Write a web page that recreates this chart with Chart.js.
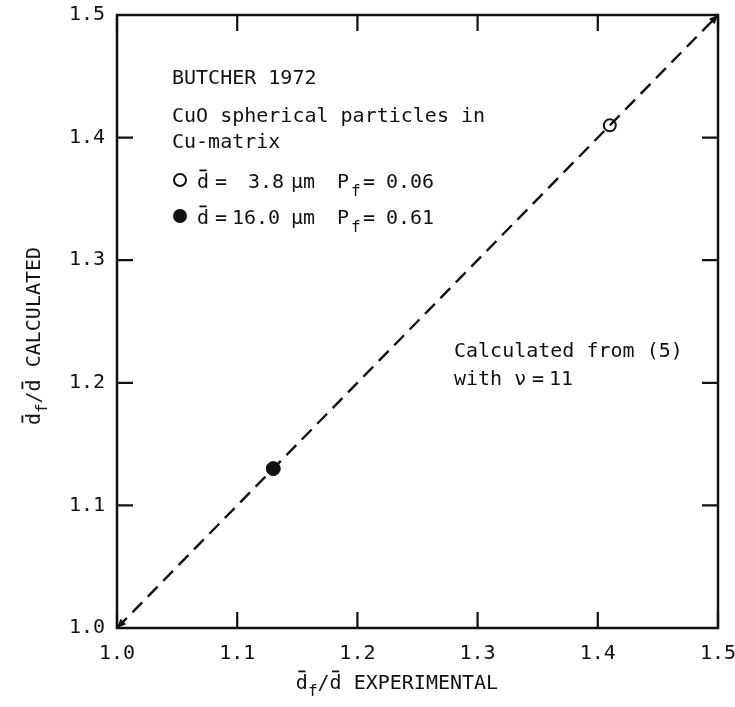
<!DOCTYPE html>
<html>
<head>
<meta charset="utf-8">
<script src="https://cdn.jsdelivr.net/npm/chart.js@4.4.0/dist/chart.umd.min.js"></script>
<style>
  html, body { margin: 0; padding: 0; background: #fff; }
  #wrap { width: 735px; height: 707px; }
</style>
</head>
<body>
<div id="wrap"><canvas id="chart"></canvas></div>
<script>
// values
const tickValues = [1.0, 1.1, 1.2, 1.3, 1.4, 1.5];
const lineX = [1.0, 1.5];
const lineY = [1.0, 1.5];
const openX = [1.41];
const openY = [1.41];
const filledX = [1.13];
const filledY = [1.13];

const FONT = '"DejaVu Sans Mono", monospace';
const INK = '#111';

function pts(xs, ys) {
  return xs.map((x, i) => ({ x: x, y: ys[i] }));
}

// text with overbar / subscript pieces: [text, kind]
function drawRich(ctx, parts, x, y, size) {
  let cx = x;
  parts.forEach(p => {
    const kind = p[1] || '';
    const s = kind === 'sub' ? size * 0.8 : size;
    ctx.font = s + 'px ' + FONT;
    const w = ctx.measureText(p[0]).width;
    const by = kind === 'sub' ? y + size * 0.35 : y;
    ctx.fillText(p[0], cx, by);
    if (kind === 'bar') {
      ctx.beginPath();
      ctx.lineWidth = 1.8;
      ctx.moveTo(cx + w * 0.2, y - size * 0.88);
      ctx.lineTo(cx + w * 0.8, y - size * 0.88);
      ctx.stroke();
    }
    cx += w;
  });
  return cx - x;
}

function richWidth(ctx, parts, size) {
  let w = 0;
  parts.forEach(p => {
    const s = p[1] === 'sub' ? size * 0.8 : size;
    ctx.font = s + 'px ' + FONT;
    w += ctx.measureText(p[0]).width;
  });
  return w;
}

const decor = {
  id: 'decor',
  afterDatasetsDraw(chart) {
    const ctx = chart.ctx;
    const a = chart.chartArea;
    const xs = chart.scales.x, ys = chart.scales.y;
    ctx.save();
    ctx.strokeStyle = INK;
    ctx.fillStyle = INK;

    // frame
    ctx.lineWidth = 2.5;
    ctx.strokeRect(a.left, a.top, a.right - a.left, a.bottom - a.top);

    // inward ticks on all four sides
    const tl = 16;
    ctx.lineWidth = 2.2;
    tickValues.forEach(v => {
      const px = xs.getPixelForValue(v);
      const py = ys.getPixelForValue(v);
      ctx.beginPath();
      ctx.moveTo(px, a.bottom); ctx.lineTo(px, a.bottom - tl);
      ctx.moveTo(px, a.top); ctx.lineTo(px, a.top + tl);
      ctx.moveTo(a.left, py); ctx.lineTo(a.left + tl, py);
      ctx.moveTo(a.right, py); ctx.lineTo(a.right - tl, py);
      ctx.stroke();
    });

    // arrow heads at both ends of the dashed line
    const p0 = { x: xs.getPixelForValue(lineX[0]), y: ys.getPixelForValue(lineY[0]) };
    const p1 = { x: xs.getPixelForValue(lineX[1]), y: ys.getPixelForValue(lineY[1]) };
    [[p0, p1], [p1, p0]].forEach(pair => {
      const tip = pair[0], from = pair[1];
      const ang = Math.atan2(tip.y - from.y, tip.x - from.x);
      const L = 9, W = 4;
      ctx.beginPath();
      ctx.moveTo(tip.x, tip.y);
      ctx.lineTo(tip.x - L * Math.cos(ang) + W * Math.sin(ang), tip.y - L * Math.sin(ang) - W * Math.cos(ang));
      ctx.lineTo(tip.x - L * Math.cos(ang) - W * Math.sin(ang), tip.y - L * Math.sin(ang) + W * Math.cos(ang));
      ctx.closePath();
      ctx.fill();
    });

    // annotation block
    ctx.textBaseline = 'alphabetic';
    ctx.textAlign = 'left';
    const fs = 20;
    ctx.font = fs + 'px ' + FONT;
    ctx.fillText('BUTCHER 1972', 172, 84);
    ctx.fillText('CuO spherical particles in', 172, 122);
    ctx.fillText('Cu-matrix', 172, 148);

    // legend markers
    ctx.lineWidth = 2;
    ctx.beginPath();
    ctx.arc(180, 180, 6, 0, Math.PI * 2);
    ctx.stroke();
    ctx.beginPath();
    ctx.arc(180, 216, 7, 0, Math.PI * 2);
    ctx.fill();

    const rows = [[188, '3.8', 248, '0.06'], [224, '16.0', 232, '0.61']];
    rows.forEach(r => {
      const b = r[0];
      drawRich(ctx, [['d', 'bar']], 197, b, fs);
      ctx.font = fs + 'px ' + FONT;
      ctx.fillText('=', 215, b);
      ctx.fillText(r[1], r[2], b);
      ctx.fillText('\u00b5m', 291, b);
      ctx.fillText('P', 337, b);
      ctx.font = (fs * 0.8) + 'px ' + FONT;
      ctx.fillText('f', 351, b + 8);
      ctx.font = fs + 'px ' + FONT;
      ctx.fillText('=', 363, b);
      ctx.fillText(r[3], 386, b);
    });

    ctx.font = fs + 'px ' + FONT;
    ctx.fillText('Calculated from (5)', 454, 357);
    ctx.fillText('with \u03bd', 454, 385);
    ctx.fillText('=', 532, 385);
    ctx.fillText('11', 549, 385);

    // axis titles
    const xt = [['d', 'bar'], ['f', 'sub'], ['/'], ['d', 'bar'], [' EXPERIMENTAL']];
    const xw = richWidth(ctx, xt, fs);
    drawRich(ctx, xt, 397 - xw / 2, 689, fs);

    const yt = [['d', 'bar'], ['f', 'sub'], ['/'], ['d', 'bar'], [' CALCULATED']];
    const yw = richWidth(ctx, yt, fs);
    ctx.translate(40, 336);
    ctx.rotate(-Math.PI / 2);
    drawRich(ctx, yt, -yw / 2, 0, fs);
    ctx.restore();
  }
};

const tickFont = { family: FONT, size: 20 };

function noPad(s) {
  s.paddingLeft = 0; s.paddingRight = 0; s.paddingTop = 0; s.paddingBottom = 0;
}

new Chart(document.getElementById('chart'), {
  type: 'scatter',
  data: {
    datasets: [
      {
        label: 'Calculated from (5)',
        type: 'line',
        data: pts(lineX, lineY),
        borderColor: INK,
        borderWidth: 2.4,
        borderDash: [14, 8],
        pointRadius: 0,
        fill: false
      },
      {
        label: '3.8 um',
        data: pts(openX, openY),
        pointRadius: 6,
        pointBorderWidth: 2,
        pointBackgroundColor: '#fff',
        pointBorderColor: INK
      },
      {
        label: '16.0 um',
        data: pts(filledX, filledY),
        pointRadius: 7,
        pointBorderWidth: 1,
        pointBackgroundColor: INK,
        pointBorderColor: INK
      }
    ]
  },
  plugins: [decor],
  options: {
    responsive: true,
    maintainAspectRatio: false,
    animation: false,
    layout: { padding: { left: 0, right: 17, top: 15, bottom: 0 } },
    plugins: {
      legend: { display: false },
      tooltip: { enabled: false }
    },
    scales: {
      x: {
        type: 'linear',
        min: 1.0,
        max: 1.5,
        afterFit: s => { s.height = 79; noPad(s); },
        afterBuildTicks: s => { s.ticks = tickValues.map(v => ({ value: v })); },
        grid: { display: false, drawTicks: false },
        border: { display: false },
        ticks: {
          font: tickFont,
          color: INK,
          padding: 14,
          maxRotation: 0,
          callback: v => v.toFixed(1)
        }
      },
      y: {
        type: 'linear',
        min: 1.0,
        max: 1.5,
        afterFit: s => { s.width = 117; noPad(s); },
        afterBuildTicks: s => { s.ticks = tickValues.map(v => ({ value: v })); },
        grid: { display: false, drawTicks: false },
        border: { display: false },
        ticks: {
          font: tickFont,
          color: INK,
          padding: 12,
          callback: v => v.toFixed(1)
        }
      }
    }
  }
});
</script>
</body>
</html>
